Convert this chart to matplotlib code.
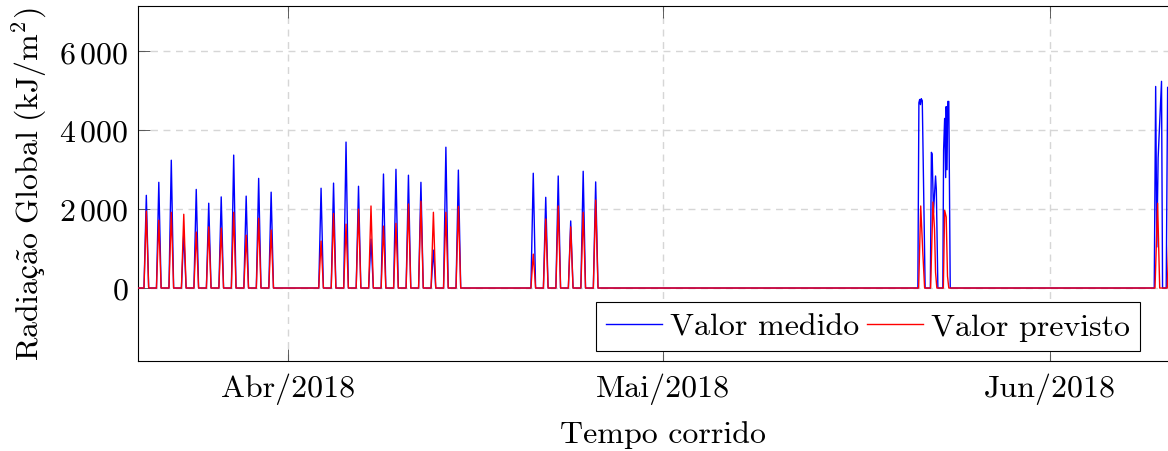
import matplotlib
matplotlib.use("Agg")
import matplotlib.pyplot as plt
import matplotlib.ticker as mticker
import pandas as pd

FS = 23
plt.rcParams.update({
    "font.family": ["cmr10", "STIXGeneral"],
    "mathtext.fontset": "cm",
    "axes.formatter.use_mathtext": True,
    "font.size": FS,
})

# ---------------- data (kJ/m²) ----------------
# daily maxima for the periods with regular records
dias_mar = pd.date_range("2018-03-20", "2018-03-30")
medido_mar = [2350, 2680, 3240, 1390, 2500, 2150, 2310, 3370, 2330, 2780, 2430]
previsto_mar = [1950, 1720, 1920, 1870, 1420, 1550, 1520, 1920, 1340, 1770, 1470]

dias_abr_a = pd.date_range("2018-04-03", "2018-04-14")
medido_abr_a = [2530, 2660, 3700, 2580, 1240, 2890, 3010, 2860, 2680, 960, 3570, 2990]
previsto_abr_a = [1190, 1890, 1620, 2000, 2080, 1570, 1640, 2130, 2200, 1920, 1920, 2070]

dias_abr_b = pd.date_range("2018-04-20", "2018-04-25")
medido_abr_b = [2910, 2300, 2840, 1700, 2960, 2690]
previsto_abr_b = [860, 1750, 2080, 1550, 1920, 2230]

# hourly records kept as they were logged (May and June)
horas_mai_med = ["2018-05-21 10:30", "2018-05-21 12:30", "2018-05-21 14:00", "2018-05-21 15:30",
                 "2018-05-21 17:00", "2018-05-21 19:00", "2018-05-22 00:30",
                 "2018-05-22 10:30", "2018-05-22 12:30", "2018-05-22 14:00", "2018-05-22 16:30",
                 "2018-05-22 20:30", "2018-05-22 22:00", "2018-05-23 01:00",
                 "2018-05-23 10:30", "2018-05-23 12:00", "2018-05-23 14:00", "2018-05-23 16:00",
                 "2018-05-23 17:00", "2018-05-23 18:30", "2018-05-23 20:00", "2018-05-23 22:00",
                 "2018-05-24 00:45"]
medido_mai = [0, 4700, 4780, 4650, 4800, 4750, 0,
              0, 3440, 3400, 1900, 2840, 2500, 0,
              0, 3500, 4300, 2800, 4600, 3000, 4730, 4730, 0]
horas_mai_prev = ["2018-05-21 12:00", "2018-05-21 16:00", "2018-05-21 20:00", "2018-05-21 23:30",
                  "2018-05-22 11:00", "2018-05-22 15:30", "2018-05-22 18:30", "2018-05-22 20:30",
                  "2018-05-22 23:00",
                  "2018-05-23 11:30", "2018-05-23 14:00", "2018-05-23 17:00", "2018-05-23 19:30",
                  "2018-05-23 22:00"]
previsto_mai = [0, 2080, 900, 0,
                0, 2180, 1500, 400, 0,
                0, 1970, 1800, 300, 0]

horas_jun_med = ["2018-06-09 09:00", "2018-06-09 11:45", "2018-06-09 14:00", "2018-06-09 16:30",
                 "2018-06-09 19:30", "2018-06-09 23:00", "2018-06-10 01:00",
                 "2018-06-10 08:00", "2018-06-10 10:45", "2018-06-10 14:00", "2018-06-10 20:00"]
medido_jun = [0, 5110, 1040, 3300, 4200, 5240, 0,
              0, 5090, 4000, 0]
horas_jun_prev = ["2018-06-09 10:30", "2018-06-09 15:30", "2018-06-09 19:30",
                  "2018-06-10 10:00", "2018-06-10 15:00", "2018-06-10 20:00"]
previsto_jun = [0, 2150, 0, 0, 2000, 0]

inicio = pd.Timestamp("2018-03-19 23:00")
fim_eixo = pd.Timestamp("2018-06-12 00:00")


def perfil_diario(dias, picos):
    """Sunrise / noon / sunset points for each day with its maximum."""
    t, v = [], []
    for d, p in zip(dias, picos):
        t += [d + pd.Timedelta(hours=10.5), d + pd.Timedelta(hours=15), d + pd.Timedelta(hours=19.5)]
        v += [0, p, 0]
    return t, v


def montar(blocos, horas_a, vals_a, horas_b, vals_b):
    t, v = [inicio], [0]
    for dias, picos in blocos:
        tt, vv = perfil_diario(dias, picos)
        t += tt
        v += vv
    t += list(pd.to_datetime(horas_a)) + list(pd.to_datetime(horas_b))
    v += list(vals_a) + list(vals_b)
    return pd.Series(v, index=pd.DatetimeIndex(t)).sort_index()


serie_medido = montar([(dias_mar, medido_mar), (dias_abr_a, medido_abr_a), (dias_abr_b, medido_abr_b)],
                      horas_mai_med, medido_mai, horas_jun_med, medido_jun)
serie_previsto = montar([(dias_mar, previsto_mar), (dias_abr_a, previsto_abr_a), (dias_abr_b, previsto_abr_b)],
                        horas_mai_prev, previsto_mai, horas_jun_prev, previsto_jun)

meses_ticks = pd.to_datetime(["2018-04-01", "2018-05-01", "2018-06-01"])
meses_rotulos = ["Abr/2018", "Mai/2018", "Jun/2018"]
y_ticks = [0, 2000, 4000, 6000]

# ---------------- figure ----------------
W, H = 1168, 452
fig = plt.figure(figsize=(W / 100, H / 100), dpi=100)
ax_left, ax_right, ax_top, ax_bottom = 138, 1187, 7, 362
ax = fig.add_axes([ax_left / W, 1 - ax_bottom / H, (ax_right - ax_left) / W, (ax_bottom - ax_top) / H])

ax.plot(serie_medido.index, serie_medido.values, color=(0, 0, 1), lw=1.0, label="Valor medido", zorder=3)
ax.plot(serie_previsto.index, serie_previsto.values, color=(1, 0, 0), lw=1.0, label="Valor previsto", zorder=4)

ax.set_xlim(inicio, fim_eixo)
ax.set_ylim(-1850, 7150)

ax.set_xticks(meses_ticks)
ax.set_xticklabels(meses_rotulos)
ax.set_yticks(y_ticks)
ax.yaxis.set_major_formatter(mticker.FuncFormatter(
    lambda v, p: "$0$" if v == 0 else r"$%d\,%03d$" % (int(v) // 1000, int(v) % 1000)))

ax.grid(True, color="#d6d6d6", lw=1.0, linestyle=(0, (5, 4)))
ax.set_axisbelow(True)
ax.tick_params(direction="in", length=8.5, width=0.6, color="#444444",
               top=True, right=True, labelsize=FS)
ax.tick_params(axis="y", pad=7)
ax.tick_params(axis="x", pad=8)
for s in ax.spines.values():
    s.set_linewidth(0.8)

ax.set_xlabel("Tempo corrido", fontsize=FS, labelpad=12)
ax.set_ylabel(r"$\mathrm{Radiaç\tilde{a}o\ Global\ (kJ/m^2)}$", fontsize=FS, labelpad=7)

leg = ax.legend(loc="lower right", bbox_to_anchor=(1140 / W, 1 - 352 / H),
                bbox_transform=fig.transFigure, ncol=2, fontsize=FS,
                frameon=True, fancybox=False, framealpha=1, edgecolor="black",
                handlelength=1.75, handletextpad=0.25, columnspacing=0.25,
                borderpad=0.32, borderaxespad=0)
leg.get_frame().set_linewidth(0.8)

fig.savefig("out.png", dpi=100)
